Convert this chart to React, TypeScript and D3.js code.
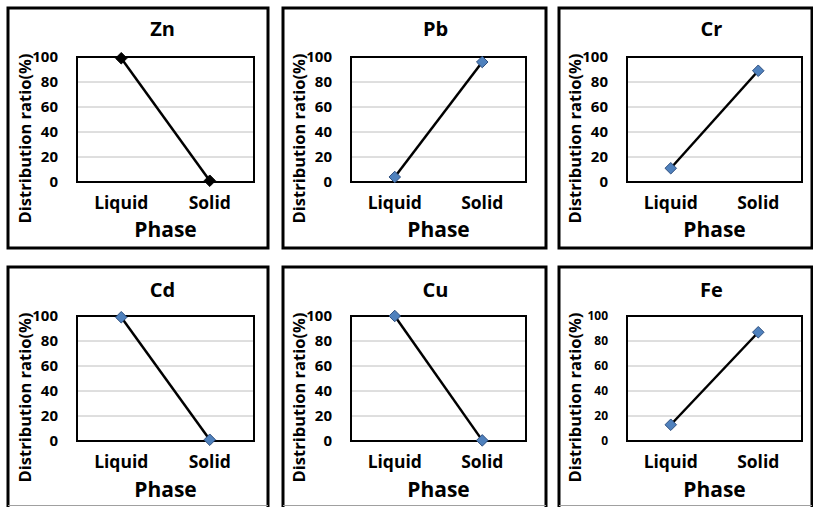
import React from "react";
import * as d3 from "d3";

const metals = ["Zn", "Pb", "Cr", "Cd", "Cu", "Fe"];
const phases = ["Liquid", "Solid"];
const liquidValues = [99, 4, 11, 99, 100, 13];
const solidValues = [1, 96, 89, 1, 0.5, 87];
const yTicks = [0, 20, 40, 60, 80, 100];
const markerFills = ["#000000", "#4F81BD", "#4F81BD", "#4F81BD", "#4F81BD", "#4F81BD"];
const tickFontSizes = [15, 15, 15, 15, 15, 12];

const FONT = "'Open Sans', 'DejaVu Sans', sans-serif";

const cols = [
  { x0: 8, x1: 268, pl: 77, pr: 254 },
  { x0: 283, x1: 546, pl: 351, pr: 526 },
  { x0: 559, x1: 812, pl: 627, pr: 802 },
];
const rows = [
  { y0: 8, y1: 248, pt: 57, pb: 182, title: 36, xl: 209, phase: 237, bottomGray: false },
  { y0: 267, y1: 530, pt: 316, pb: 441, title: 297, xl: 468, phase: 497, bottomGray: true },
];

function Panel({ i }: { i: number }) {
  const c = cols[i % 3];
  const r = rows[Math.floor(i / 3)];
  const x = d3.scalePoint<string>().domain(phases).range([c.pl, c.pr]).padding(0.5);
  const y = d3.scaleLinear().domain([0, 100]).range([r.pb, r.pt]);
  const vals = [liquidValues[i], solidValues[i]];
  const pts: [number, number][] = phases.map((p, k) => [x(p) as number, y(vals[k])]);
  const line = d3.line()(pts) as string;
  const cx = (c.pl + c.pr) / 2;
  const cy = (r.pt + r.pb) / 2 + 19;
  const fill = markerFills[i];
  const stroke = fill === "#000000" ? "#000" : "#2F4F7F";
  const diamond = d3.symbol().type(d3.symbolDiamond2).size(85)() as string;
  return (
    <g>
      <path
        d={`M${c.x0},${r.y1} L${c.x0},${r.y0} L${c.x1},${r.y0} L${c.x1},${r.y1}${r.bottomGray ? "" : " Z"}`}
        fill="none"
        stroke="#000"
        strokeWidth={3}
      />
      {r.bottomGray && (
        <line x1={c.x0} x2={c.x1} y1={505.5} y2={505.5} stroke="#A0A0A0" strokeWidth={1} />
      )}
      <text x={cx - 3} y={r.title} textAnchor="middle" fontFamily={FONT} fontWeight="bold" fontSize={20}>
        {metals[i]}
      </text>
      {yTicks.filter((t) => t > 0 && t < 100).map((t) => (
        <line key={t} x1={c.pl} x2={c.pr} y1={y(t)} y2={y(t)} stroke="#BEBEBE" strokeWidth={1} />
      ))}
      <rect x={c.pl} y={r.pt} width={c.pr - c.pl} height={r.pb - r.pt} fill="none" stroke="#000" strokeWidth={2} />
      {yTicks.map((t) => (
        <text
          key={t}
          x={c.pl - 19}
          y={y(t)}
          dy="0.36em"
          textAnchor="end"
          fontFamily={FONT}
          fontWeight="bold"
          fontSize={tickFontSizes[i]}
        >
          {t}
        </text>
      ))}
      {phases.map((p) => (
        <text key={p} x={x(p)} y={r.xl} textAnchor="middle" fontFamily={FONT} fontWeight="bold" fontSize={17.5}>
          {p}
        </text>
      ))}
      <text x={cx} y={r.phase} textAnchor="middle" fontFamily={FONT} fontWeight="bold" fontSize={21}>
        Phase
      </text>
      <text
        transform={`translate(${c.pl - 52},${cy}) rotate(-90)`}
        dy="0.36em"
        textAnchor="middle"
        fontFamily={FONT}
        fontWeight="bold"
        fontSize={16.5}
      >
        Distribution ratio(%)
      </text>
      <path d={line} fill="none" stroke="#000" strokeWidth={2.5} />
      {pts.map((pt, k) => (
        <path key={k} d={diamond} transform={`translate(${pt[0]},${pt[1]})`} fill={fill} stroke={stroke} strokeWidth={1} />
      ))}
    </g>
  );
}

export default function App() {
  return (
    <svg
      width={813}
      height={507}
      style={{ position: "absolute", left: 0, top: 0, background: "#fff" }}
    >
      <rect width={813} height={507} fill="#fff" />
      {metals.map((m, i) => (
        <Panel key={m} i={i} />
      ))}
    </svg>
  );
}
